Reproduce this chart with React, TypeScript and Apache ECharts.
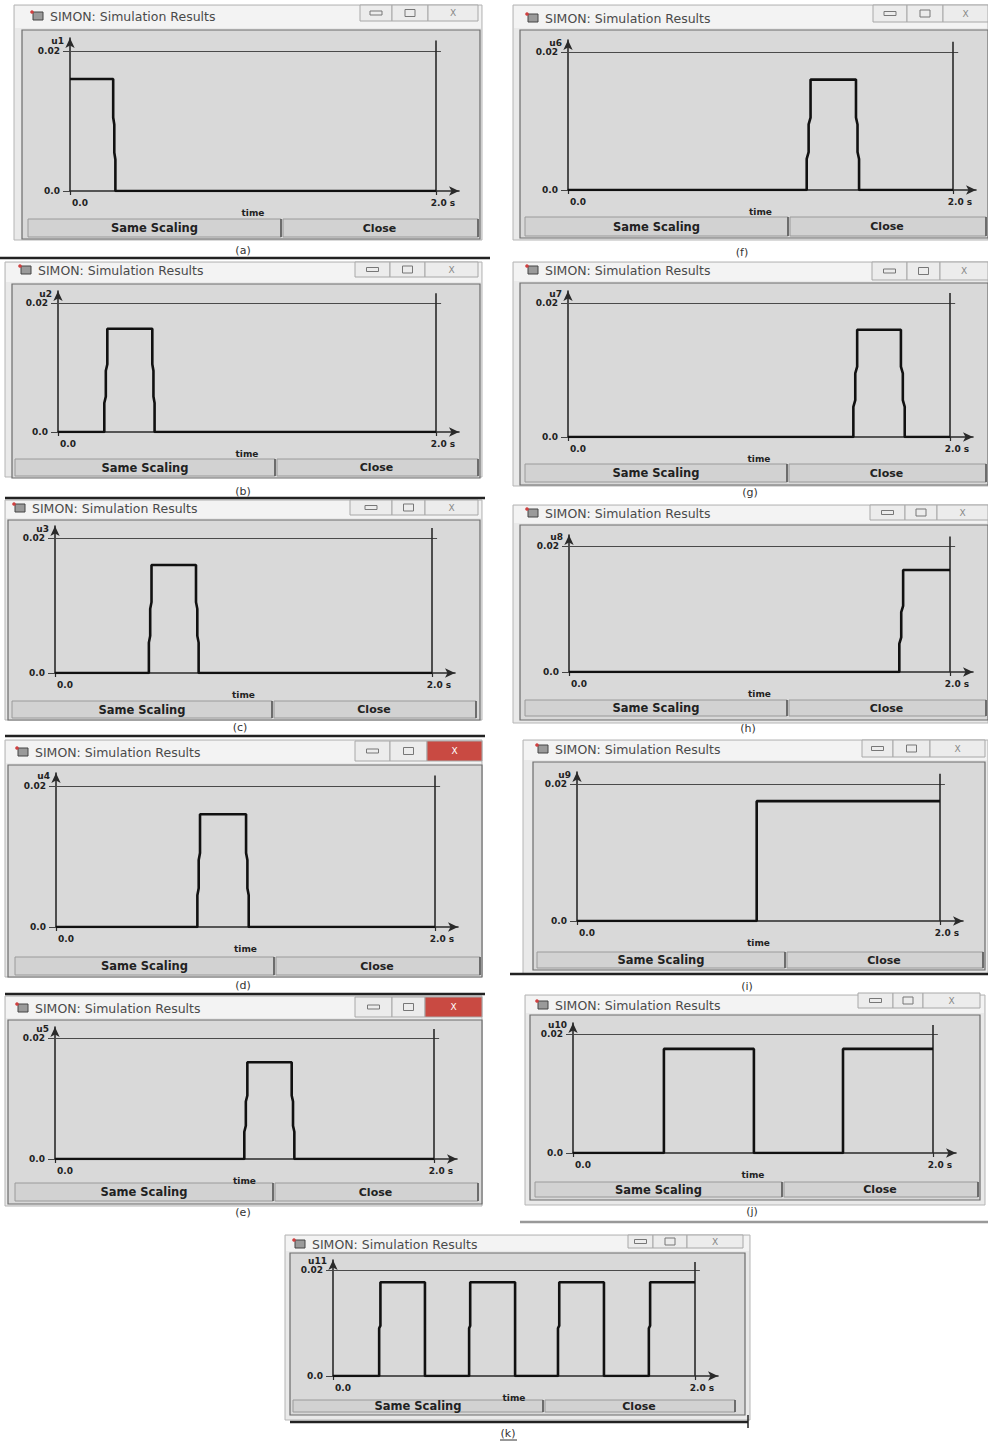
import React, { useEffect, useRef } from "react";
import * as echarts from "echarts";

// ---------------- data ----------------
const SIGNAL_NAMES = ["u1", "u2", "u3", "u4", "u5", "u6", "u7", "u8", "u9", "u10", "u11"];
const CAPTIONS = ["(a)", "(b)", "(c)", "(d)", "(e)", "(f)", "(g)", "(h)", "(i)", "(j)", "(k)"];
const X_TICKS = [0, 2.0];
const X_TICK_LABELS = ["0.0", "2.0 s"];
const Y_TICKS = [0, 0.02];
const Y_TICK_LABELS = ["0.0", "0.02"];
const X_NAME = "time";
const WINDOW_TITLE = "SIMON: Simulation Results";
const BUTTON_LABELS = ["Same Scaling", "Close"];
const REF_LEVEL = 0.02;
const T_END = 2.0;

const U1 = [[0, 0.016], [0.236, 0.016], [0.236, 0.0105], [0.242, 0.0095], [0.242, 0.0055], [0.248, 0.0045], [0.248, 0], [2, 0]];
const U2 = [[0, 0], [0.245, 0], [0.245, 0.0045], [0.253, 0.0055], [0.253, 0.0095], [0.261, 0.0105], [0.261, 0.016], [0.499, 0.016], [0.499, 0.0105], [0.505, 0.0095], [0.505, 0.0055], [0.511, 0.0045], [0.511, 0], [2, 0]];
const U3 = [[0, 0], [0.498, 0], [0.498, 0.0045], [0.505, 0.0055], [0.505, 0.0095], [0.512, 0.0105], [0.512, 0.016], [0.748, 0.016], [0.748, 0.0105], [0.755, 0.0095], [0.755, 0.0055], [0.762, 0.0045], [0.762, 0], [2, 0]];
const U4 = [[0, 0], [0.746, 0], [0.746, 0.0045], [0.753, 0.0055], [0.753, 0.0095], [0.76, 0.0105], [0.76, 0.016], [1.003, 0.016], [1.003, 0.0105], [1.01, 0.0095], [1.01, 0.0055], [1.017, 0.0045], [1.017, 0], [2, 0]];
const U5 = [[0, 0], [0.999, 0], [0.999, 0.0045], [1.007, 0.0055], [1.007, 0.0095], [1.015, 0.0105], [1.015, 0.016], [1.249, 0.016], [1.249, 0.0105], [1.256, 0.0095], [1.256, 0.0055], [1.263, 0.0045], [1.263, 0], [2, 0]];
const U6 = [[0, 0], [1.24, 0], [1.24, 0.0045], [1.25, 0.0055], [1.25, 0.0095], [1.26, 0.0105], [1.26, 0.016], [1.496, 0.016], [1.496, 0.0105], [1.504, 0.0095], [1.504, 0.0055], [1.512, 0.0045], [1.512, 0], [2, 0]];
const U7 = [[0, 0], [1.494, 0], [1.494, 0.0045], [1.504, 0.0055], [1.504, 0.0095], [1.514, 0.0105], [1.514, 0.016], [1.743, 0.016], [1.743, 0.0105], [1.753, 0.0095], [1.753, 0.0055], [1.763, 0.0045], [1.763, 0], [2, 0]];
const U8 = [[0, 0], [1.734, 0], [1.734, 0.0045], [1.744, 0.0055], [1.744, 0.0095], [1.754, 0.0105], [1.754, 0.0162], [2, 0.0162]];
const U9 = [[0, 0], [0.99, 0], [0.99, 0.0175], [2, 0.0175]];
const U10 = [[0, 0], [0.505, 0], [0.505, 0.0175], [1.005, 0.0175], [1.005, 0], [1.5, 0], [1.5, 0.0175], [2, 0.0175]];
const U11 = [[0, 0], [0.255, 0], [0.255, 0.009], [0.262, 0.0095], [0.262, 0.0177], [0.508, 0.0177], [0.508, 0], [0.752, 0], [0.752, 0.009], [0.758, 0.0095], [0.758, 0.0177], [1.006, 0.0177], [1.006, 0], [1.243, 0], [1.243, 0.009], [1.25, 0.0095], [1.25, 0.0177], [1.497, 0.0177], [1.497, 0], [1.745, 0], [1.745, 0.009], [1.752, 0.0095], [1.752, 0.0177], [2, 0.0177]];
const SERIES_DATA = [U1, U2, U3, U4, U5, U6, U7, U8, U9, U10, U11];

// ---------------- layout (pixels) ----------------
type Panel = {
  win: number[]; inner: number[]; title: number[]; btn: number[];
  grid: number[]; cap: number[]; ctl: number[]; red?: boolean;
};
const PANELS: Panel[] = [
  { win: [14, 5, 468, 235], inner: [22, 30, 458, 209], title: [50, 16], btn: [28, 281, 478, 219, 237], grid: [70, 436, 51, 191], cap: [243, 250], ctl: [360, 392, 428, 478, 5, 21] },
  { win: [5, 262, 477, 215], inner: [12, 284, 468, 194], title: [38, 270], btn: [15, 275, 478, 459, 476], grid: [58, 436, 303, 432], cap: [243, 491], ctl: [355, 390, 425, 478, 262, 277] },
  { win: [5, 500, 477, 220], inner: [8, 520, 472, 200], title: [32, 508], btn: [12, 272, 476, 701, 718], grid: [55, 432, 538, 673], cap: [240, 727], ctl: [350, 392, 425, 478, 500, 515] },
  { win: [5, 740, 477, 237], inner: [8, 765, 474, 212], title: [35, 752], btn: [15, 274, 480, 957, 975], grid: [56, 435, 786, 927], cap: [243, 985], ctl: [355, 390, 427, 482, 741, 761], red: true },
  { win: [5, 996, 477, 210], inner: [8, 1020, 474, 184], title: [35, 1008], btn: [15, 273, 478, 1183, 1201], grid: [55, 434, 1038, 1159], cap: [243, 1212], ctl: [355, 392, 425, 482, 997, 1017], red: true },
  { win: [513, 5, 475, 235], inner: [520, 30, 468, 208], title: [545, 18], btn: [525, 788, 986, 217, 236], grid: [568, 953, 52, 190], cap: [742, 252], ctl: [873, 907, 943, 988, 5, 22] },
  { win: [513, 262, 475, 224], inner: [520, 283, 468, 202], title: [545, 270], btn: [525, 787, 986, 464, 482], grid: [568, 950, 303, 437], cap: [750, 492], ctl: [872, 907, 940, 988, 262, 280] },
  { win: [513, 505, 475, 218], inner: [520, 525, 468, 195], title: [545, 513], btn: [525, 787, 986, 700, 716], grid: [569, 950, 546, 672], cap: [748, 728], ctl: [870, 905, 937, 988, 505, 520] },
  { win: [523, 740, 465, 234], inner: [533, 762, 452, 208], title: [555, 749], btn: [537, 785, 983, 952, 968], grid: [577, 940, 784, 921], cap: [747, 986], ctl: [862, 893, 930, 985, 740, 757] },
  { win: [525, 995, 460, 210], inner: [530, 1015, 450, 185], title: [555, 1005], btn: [535, 782, 978, 1182, 1197], grid: [573, 933, 1034, 1153], cap: [752, 1211], ctl: [858, 893, 923, 980, 993, 1008] },
  { win: [285, 1235, 465, 185], inner: [290, 1253, 455, 162], title: [312, 1244], btn: [293, 543, 735, 1400, 1412], grid: [333, 695, 1270, 1376], cap: [508, 1433], ctl: [628, 653, 687, 743, 1235, 1248] },
];
const SEPARATORS = [
  [0, 258, 490, 258, "#222"], [5, 498, 485, 498, "#222"], [5, 736, 485, 736, "#222"], [5, 994, 485, 994, "#222"],
  [510, 974, 988, 974, "#222"], [520, 1222, 988, 1222, "#999"], [290, 1422, 748, 1422, "#222"],
];

const FONT = "DejaVu Sans";
const AX_PX = 23;

function txt(x: number, y: number, text: string, size: number, weight: string, color: string, align = "left", z = -8) {
  return {
    type: "text", x, y, z, silent: true,
    style: { text, fill: color, fontSize: size, fontWeight: weight, fontFamily: FONT, align, verticalAlign: "middle", textAlign: align, textVerticalAlign: "middle" },
  };
}
function rect(x: number, y: number, w: number, h: number, fill: string, stroke: string, lw = 1, z = -10) {
  return { type: "rect", z, silent: true, shape: { x, y, width: w, height: h }, style: { fill, stroke, lineWidth: lw } };
}
function line(x1: number, y1: number, x2: number, y2: number, stroke: string, lw = 1, z = -9) {
  return { type: "line", z, silent: true, shape: { x1, y1, x2, y2 }, style: { stroke, lineWidth: lw } };
}

function buildChrome() {
  const els: any[] = [];
  PANELS.forEach((p, i) => {
    const [wx, wy, ww, wh] = p.win;
    const [ix, iy, iw, ih] = p.inner;
    els.push(rect(wx, wy, ww, wh, "#e9e9e9", "#b5b5b5", 1, -12));
    els.push(rect(wx + 1, wy + 1, ww - 2, iy - wy - 3, "#f3f3f3", "none", 0, -11));
    els.push(rect(ix, iy, iw, ih, "#d9d9d9", "#6c6c6c", 1.2, -10));
    // icon
    const [tx, ty] = p.title;
    els.push(rect(tx - 17, ty - 4, 10, 8, "#9a9a9a", "#444", 1, -9));
    els.push({ type: "circle", z: -8, silent: true, shape: { cx: tx - 18, cy: ty - 4, r: 1.8 }, style: { fill: "#d04040" } });
    els.push(txt(tx, ty, WINDOW_TITLE, 12.5, "normal", "#4a4a4a"));
    // window controls
    const [c0, c1, c2, c3, cy0, cy1] = p.ctl;
    const ch = cy1 - cy0;
    els.push(rect(c0, cy0, c1 - c0, ch, "#ececec", "#a8a8a8", 1, -9));
    els.push(rect(c1, cy0, c2 - c1, ch, "#ececec", "#a8a8a8", 1, -9));
    els.push(rect(c2, cy0, c3 - c2, ch, p.red ? "#c94a42" : "#ececec", "#a8a8a8", 1, -9));
    els.push(rect((c0 + c1) / 2 - 6, cy0 + ch / 2 - 2, 12, 4, "none", "#777", 1, -8));
    els.push(rect((c1 + c2) / 2 - 5, cy0 + ch / 2 - 3.5, 10, 7, "none", "#777", 1, -8));
    els.push(txt((c2 + c3) / 2, cy0 + ch / 2, "X", 9, "normal", p.red ? "#ffffff" : "#888", "center"));
    // buttons
    const [b0, bs, b1, by0, by1] = p.btn;
    els.push(rect(b0, by0, bs - b0, by1 - by0, "#d2d2d2", "#9a9a9a", 1, -9));
    els.push(rect(bs + 2, by0, b1 - bs - 2, by1 - by0, "#d2d2d2", "#9a9a9a", 1, -9));
    els.push(line(bs, by0, bs, by1, "#555", 1.5));
    els.push(line(b1, by0, b1, by1, "#555", 1.5));
    els.push(txt((b0 + bs) / 2, (by0 + by1) / 2, BUTTON_LABELS[0], 11.5, "bold", "#222", "center"));
    els.push(txt((bs + b1) / 2, (by0 + by1) / 2, BUTTON_LABELS[1], 11, "bold", "#222", "center"));
    // caption
    els.push(txt(p.cap[0], p.cap[1], CAPTIONS[i], 11, "normal", "#333", "center"));
  });
  SEPARATORS.forEach((s) => els.push(line(s[0] as number, s[1] as number, s[2] as number, s[3] as number, s[4] as string, 2.5, -7)));
  // underline of (k)
  els.push(line(500, 1440, 517, 1440, "#333", 1, -7));
  els.push(line(748, 1415, 748, 1428, "#222", 1.5, -7));
  return els;
}

export default function App() {
  const ref = useRef<HTMLDivElement>(null);
  useEffect(() => {
    if (!ref.current) return;
    const chart = echarts.init(ref.current, undefined, { renderer: "svg" });
    const grids: any[] = [];
    const xAxes: any[] = [];
    const yAxes: any[] = [];
    const series: any[] = [];
    PANELS.forEach((p, i) => {
      const [x0, x2, yTop, yBot] = p.grid;
      const ay = Math.round(0.09 * (yBot - yTop));
      const xMax = (T_END * (x2 + AX_PX - x0)) / (x2 - x0);
      const yMax = (REF_LEVEL * (yBot - yTop + ay)) / (yBot - yTop);
      grids.push({ left: x0, top: yTop - ay, width: x2 + AX_PX - x0, height: yBot - yTop + ay, containLabel: false });
      const labelBase = { fontFamily: FONT, fontWeight: "bold", fontSize: 9, color: "#222" };
      xAxes.push({
        gridIndex: i, type: "value", min: 0, max: xMax,
        axisLine: { show: true, onZero: false, symbol: ["none", "arrow"], symbolSize: [7, 10], lineStyle: { color: "#2a2a2a", width: 1.6 } },
        axisTick: { show: true, customValues: X_TICKS, length: 4, lineStyle: { color: "#2a2a2a", width: 1.2 } },
        axisLabel: {
          show: true, customValues: X_TICKS, margin: 7, ...labelBase,
          formatter: (v: number) => (v === X_TICKS[0] ? `{a|${X_TICK_LABELS[0]}}` : `{b|${X_TICK_LABELS[1]}}`),
          rich: { a: { ...labelBase, padding: [0, 0, 0, 20] }, b: { ...labelBase, padding: [0, 0, 0, 14] } },
        },
        splitLine: { show: false },
        name: X_NAME, nameLocation: "middle", nameGap: 17,
        nameTextStyle: { ...labelBase, fontSize: 9, padding: [0, AX_PX, 0, 0] },
      });
      yAxes.push({
        gridIndex: i, type: "value", min: 0, max: yMax,
        axisLine: { show: true, onZero: false, symbol: ["none", "arrow"], symbolSize: [7, 10], lineStyle: { color: "#2a2a2a", width: 1.6 } },
        axisTick: { show: true, customValues: Y_TICKS, length: 7, lineStyle: { color: "#444", width: 1 } },
        axisLabel: {
          show: true, customValues: Y_TICKS, margin: 10, ...labelBase,
          formatter: (v: number) => (v === Y_TICKS[0] ? Y_TICK_LABELS[0] : Y_TICK_LABELS[1]),
        },
        splitLine: { show: false },
        name: SIGNAL_NAMES[i], nameLocation: "end", nameGap: -3,
        nameTextStyle: { ...labelBase, align: "right", verticalAlign: "middle", padding: [0, 6, 0, 0] },
      });
      series.push({
        type: "line", xAxisIndex: i, yAxisIndex: i, data: SERIES_DATA[i],
        showSymbol: false, symbol: "none", z: 5,
        lineStyle: { color: "#111", width: 2.6 },
        markLine: {
          silent: true, symbol: "none", label: { show: false },
          data: [
            [{ coord: [X_TICKS[0], REF_LEVEL], lineStyle: { color: "#4a4a4a", width: 1, type: "solid" } }, { coord: [T_END + 0.027, REF_LEVEL] }],
            [{ coord: [T_END, 0], lineStyle: { color: "#2a2a2a", width: 1.6, type: "solid" } }, { coord: [T_END, REF_LEVEL * 1.075] }],
          ],
        },
      });
    });
    chart.setOption({
      animation: false,
      backgroundColor: "#ffffff",
      grid: grids,
      xAxis: xAxes,
      yAxis: yAxes,
      series,
      graphic: { elements: buildChrome() },
    });
    return () => chart.dispose();
  }, []);
  return <div ref={ref} style={{ position: "absolute", left: 0, top: 0, width: 988, height: 1441, background: "#fff" }} />;
}
